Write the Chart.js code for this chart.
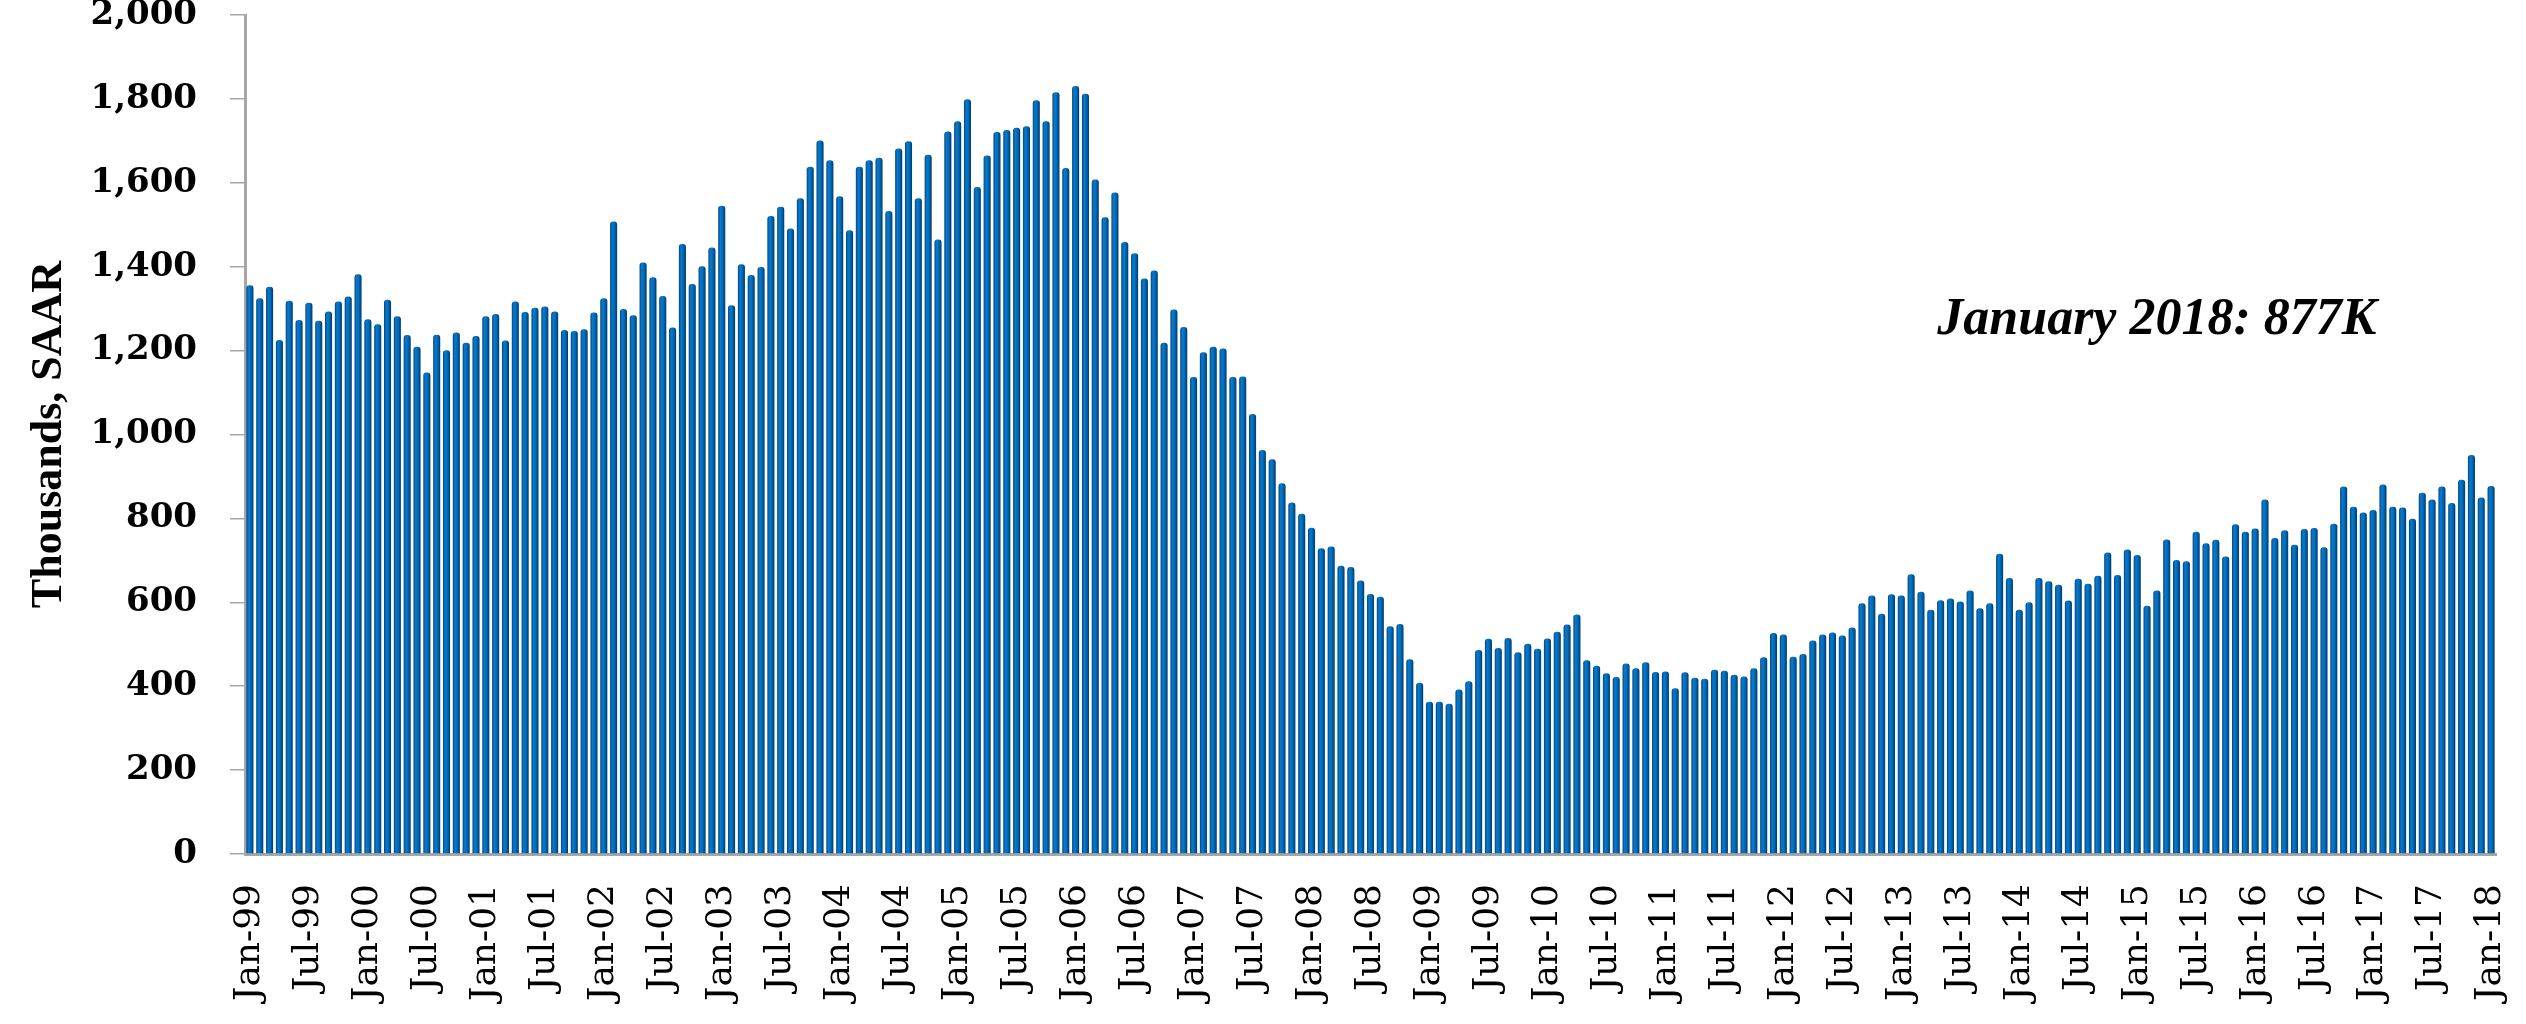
<!DOCTYPE html>
<html>
<head>
<meta charset="utf-8">
<title>Single-family housing starts</title>
<script src="https://cdn.jsdelivr.net/npm/chart.js@4.4.1/dist/chart.umd.min.js"></script>
<style>
  html, body { margin: 0; padding: 0; background: #fff; }
  #wrap { width: 2526px; height: 1024px; position: relative; }
</style>
</head>
<body>
<div id="wrap"><canvas id="starts-chart"></canvas></div>
<script>
// monthly single-family starts, thousands SAAR
const starts1999 = [1356, 1325, 1352, 1225, 1319, 1273, 1314, 1271, 1293, 1317, 1329, 1382];
const starts2000 = [1275, 1263, 1321, 1282, 1237, 1209, 1148, 1238, 1201, 1243, 1219, 1235];
const starts2001 = [1282, 1287, 1224, 1317, 1292, 1302, 1305, 1293, 1249, 1247, 1251, 1291];
const starts2002 = [1325, 1508, 1299, 1284, 1410, 1375, 1330, 1255, 1454, 1359, 1401, 1446];
const starts2003 = [1545, 1308, 1406, 1380, 1399, 1521, 1543, 1491, 1563, 1638, 1701, 1654];
const starts2004 = [1568, 1487, 1638, 1654, 1660, 1533, 1682, 1699, 1563, 1667, 1465, 1722];
const starts2005 = [1747, 1799, 1590, 1665, 1721, 1726, 1731, 1735, 1797, 1747, 1816, 1635];
const starts2006 = [1831, 1812, 1608, 1518, 1577, 1459, 1432, 1372, 1391, 1219, 1298, 1256];
const starts2007 = [1137, 1196, 1209, 1205, 1137, 1138, 1049, 963, 941, 884, 838, 811];
const starts2008 = [778, 729, 733, 687, 684, 652, 620, 613, 543, 548, 464, 408];
const starts2009 = [363, 363, 358, 392, 412, 486, 513, 491, 515, 481, 501, 489];
const starts2010 = [514, 530, 547, 571, 462, 449, 431, 422, 454, 443, 457, 434];
const starts2011 = [435, 395, 433, 420, 418, 439, 437, 427, 423, 443, 469, 527];
const starts2012 = [523, 470, 477, 509, 523, 528, 521, 540, 598, 616, 573, 619];
const starts2013 = [616, 667, 625, 582, 605, 609, 602, 628, 586, 598, 716, 658];
const starts2014 = [582, 600, 658, 650, 642, 604, 656, 644, 663, 719, 665, 726];
const starts2015 = [713, 592, 628, 750, 701, 698, 768, 741, 749, 709, 786, 768];
const starts2016 = [776, 845, 753, 772, 737, 775, 777, 731, 787, 876, 828, 814];
const starts2017 = [820, 881, 828, 826, 799, 861, 845, 876, 837, 892, 951, 850];
const starts2018 = [877];

const starts = [].concat(
  starts1999, starts2000, starts2001, starts2002, starts2003,
  starts2004, starts2005, starts2006, starts2007, starts2008,
  starts2009, starts2010, starts2011, starts2012, starts2013,
  starts2014, starts2015, starts2016, starts2017, starts2018
);

const monthNames = ['Jan', 'Feb', 'Mar', 'Apr', 'May', 'Jun', 'Jul', 'Aug', 'Sep', 'Oct', 'Nov', 'Dec'];
const years = ['99', '00', '01', '02', '03', '04', '05', '06', '07', '08', '09',
  '10', '11', '12', '13', '14', '15', '16', '17', '18'];
const yTicks = [0, 200, 400, 600, 800, 1000, 1200, 1400, 1600, 1800, 2000];

const categories = [];
years.forEach((yy) => monthNames.forEach((m) => categories.push(`${m}-${yy}`)));
categories.length = starts.length;

const noteText = 'January 2018: 877K';
const noteAt = { category: 'Mar-15', value: 1271 };

const axisGray = '#a6a6a6';

function barFill(context) {
  const chart = context.chart;
  const xScale = chart.scales.x;
  if (!chart.chartArea || !xScale || xScale.width === 0) {
    return '#0068b5';
  }
  const x = xScale.getPixelForValue(context.dataIndex);
  const w = (xScale.width / categories.length) * 0.72;
  const g = chart.ctx.createLinearGradient(x - w / 2, 0, x + w / 2, 0);
  g.addColorStop(0, '#00467c');
  g.addColorStop(0.3, '#0a78cc');
  g.addColorStop(0.6, '#006cbc');
  g.addColorStop(1, '#003a68');
  return g;
}

const notePlugin = {
  id: 'note',
  afterDraw(chart) {
    const { ctx, scales } = chart;
    const x = scales.x.getPixelForValue(categories.indexOf(noteAt.category));
    const y = scales.y.getPixelForValue(noteAt.value);
    ctx.save();
    ctx.font = 'italic bold 52px "Liberation Serif"';
    ctx.fillStyle = '#000';
    ctx.textAlign = 'center';
    ctx.textBaseline = 'middle';
    ctx.fillText(noteText, x, y);
    ctx.restore();
  }
};

new Chart(document.getElementById('starts-chart'), {
  type: 'bar',
  data: {
    labels: categories,
    datasets: [
      {
        label: 'Single-family starts',
        data: starts,
        backgroundColor: barFill,
        borderWidth: 0,
        borderRadius: { topLeft: 3, topRight: 3 },
        borderSkipped: 'start',
        barPercentage: 0.72,
        categoryPercentage: 1
      }
    ]
  },
  options: {
    responsive: true,
    maintainAspectRatio: false,
    devicePixelRatio: 1,
    animation: false,
    layout: {
      padding: { left: 0, right: 30, top: 15, bottom: 0 }
    },
    plugins: {
      legend: { display: false },
      tooltip: { enabled: false }
    },
    scales: {
      x: {
        grid: { display: false },
        border: { display: true, color: axisGray, width: 3 },
        ticks: {
          autoSkip: false,
          maxRotation: 90,
          minRotation: 90,
          padding: 22,
          color: '#000',
          font: { family: '"DejaVu Serif"', size: 36 },
          callback: (value, index) => (index % 6 === 0 ? categories[index] : '')
        },
        afterFit(scale) {
          scale.height = 170;
          scale.paddingLeft = 0;
          scale.paddingRight = 0;
        }
      },
      y: {
        min: 0,
        max: 2000,
        afterBuildTicks(scale) {
          scale.ticks = yTicks.map((v) => ({ value: v }));
        },
        grid: {
          drawOnChartArea: false,
          drawTicks: true,
          tickLength: 15,
          color: axisGray,
          lineWidth: 1.5
        },
        border: { display: true, color: axisGray, width: 3 },
        ticks: {
          padding: 33,
          color: '#000',
          font: { family: '"DejaVu Serif"', size: 34, weight: 'bold' },
          callback: (value) => Number(value).toLocaleString('en-US')
        },
        title: {
          display: true,
          text: 'Thousands, SAAR',
          color: '#000',
          padding: { top: 23, bottom: 0 },
          font: { family: '"Liberation Serif"', size: 44, weight: 'bold' }
        },
        afterFit(scale) {
          scale.width = 245;
          scale.paddingTop = 0;
          scale.paddingBottom = 0;
        }
      }
    }
  },
  plugins: [notePlugin]
});
</script>
</body>
</html>
